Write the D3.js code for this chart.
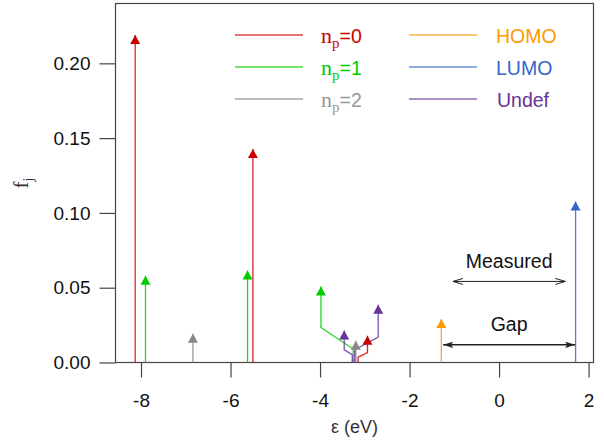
<!DOCTYPE html>
<html>
<head>
<meta charset="utf-8">
<script src="https://cdn.jsdelivr.net/npm/d3@7"></script>
<style>
  html, body { margin: 0; padding: 0; background: #fff; }
  svg { display: block; }
</style>
</head>
<body>
<svg id="chart" width="604" height="440"></svg>
<script>
// Oscillator strengths f_j of the transitions, grouped by n_p class.
const stemType     = ["np0", "np1", "np2", "np1", "np0", "np1", "undef", "np2", "np0", "undef", "homo", "lumo"];
const stemEnergy   = [-8.13, -7.90, -6.84, -5.62, -5.50, -3.26, -3.28, -3.20, -3.15, -3.225, -1.29, 1.71];
// where the arrow head is drawn (crowded sticks are fanned out sideways)
const stemShownAt  = [-8.13, -7.90, -6.84, -5.62, -5.50, -3.98, -3.46, -3.20, -2.94, -2.70, -1.29, 1.71];
const stemStrength = [0.219, 0.058, 0.0192, 0.0615, 0.1427, 0.0508, 0.0214, 0.0145, 0.0179, 0.0386, 0.029, 0.1077];
// heights of the upper and lower bends of the fan-out leaders
const bendHigh     = [0, 0, 0, 0, 0, 0.0234, 0.0085, 0, 0.0067, 0.0170, 0, 0];
const bendLow      = [0, 0, 0, 0, 0, 0.0090, 0.0052, 0, 0.0036, 0.0085, 0, 0];

const xTicks = [-8, -6, -4, -2, 0, 2];
const yTicks = [0, 0.05, 0.10, 0.15, 0.20];

const legendKeys   = ["np0", "np1", "np2", "homo", "lumo", "undef"];
const legendLabels = ["=0", "=1", "=2", "HOMO", "LUMO", "Undef"];

// HOMO–LUMO gap and the measured gap (eV)
const gapSpan      = [-1.25, 1.70];
const measuredSpan = [-1.03, 1.48];

const lineColor = { np0: "#cc0000", np1: "#00cc00", np2: "#888888", homo: "#ff9900", lumo: "#3366cc", undef: "#663399" };
const textColor = { np0: "#cc0000", np1: "#00cc00", np2: "#999999", homo: "#ff9900", lumo: "#3366cc", undef: "#663399" };

const svg = d3.select("#chart");
const L = 115.5, R = 593.5, T = 3.5, B = 362.5;
const sans = "'Liberation Sans', Arial, sans-serif";
const serif = "'Liberation Serif', 'Times New Roman', serif";

const x = d3.scaleLinear().domain([-8.57, 2.11]).range([L, R]);
const y = d3.scaleLinear().domain([0, 0.24]).range([B, T]);

// axes
const xAxis = svg.append("g").attr("transform", `translate(0,${B})`)
  .call(d3.axisBottom(x).tickValues(xTicks).tickSize(15).tickPadding(16).tickFormat(d => String(d)));
const yAxis = svg.append("g").attr("transform", `translate(${L},0)`)
  .call(d3.axisLeft(y).tickValues(yTicks).tickSize(16).tickPadding(9).tickFormat(d3.format(".2f")));
[xAxis, yAxis].forEach(a => {
  a.select(".domain").remove();
  a.selectAll(".tick line").attr("stroke", "#444").attr("stroke-width", 1.2);
  a.selectAll(".tick text").attr("fill", "#111").style("font-family", sans).style("font-size", "19px");
});

// frame
svg.append("rect").attr("x", L).attr("y", T).attr("width", R - L).attr("height", B - T)
  .attr("fill", "none").attr("stroke", "#444").attr("stroke-width", 1.2);

// axis titles
svg.append("text").attr("x", (L + R) / 2).attr("y", 433).attr("text-anchor", "middle")
  .attr("fill", "#333").style("font-family", sans).style("font-size", "18px").text("ε (eV)");
const yt = svg.append("text").attr("transform", `translate(28,${(T + B) / 2}) rotate(-90)`)
  .attr("text-anchor", "middle").attr("fill", "#333").style("font-family", serif).style("font-size", "21px");
yt.append("tspan").text("f");
yt.append("tspan").attr("dy", 5).style("font-size", "14px").text("j");

// stems with leaders and arrow heads
const stems = stemType.map((t, i) => ({
  t, e: stemEnergy[i], s: stemShownAt[i], f: stemStrength[i], hi: bendHigh[i], lo: bendLow[i]
}));
const stemLine = d3.line().x(d => x(d[0])).y(d => y(d[1]));
const g = svg.append("g");
stems.forEach(d => {
  const pts = d.s === d.e
    ? [[d.e, 0], [d.e, d.f]]
    : [[d.e, 0], [d.e, d.lo], [d.s, d.hi], [d.s, d.f]];
  g.append("path").attr("d", stemLine(pts)).attr("fill", "none")
    .attr("stroke", lineColor[d.t]).attr("stroke-width", 1.3).attr("opacity", 0.85);
});
stems.forEach(d => {
  const cx = x(d.s), ty = y(d.f);
  g.append("path").attr("d", `M${cx},${ty} L${cx - 5},${ty + 9} L${cx + 5},${ty + 9} Z`)
    .attr("fill", lineColor[d.t]);
});

// legend
legendKeys.forEach((k, i) => {
  const col = Math.floor(i / 3), row = i % 3;
  const ly = 35 + row * 32;
  const x0 = col === 0 ? 235 : 409;
  svg.append("rect").attr("x", x0).attr("y", ly - 0.6).attr("width", 68).attr("height", 1.2)
    .attr("fill", lineColor[k]).attr("opacity", 0.9);
  const tx = svg.append("text").attr("y", ly + 7.5).attr("fill", textColor[k]).style("font-family", sans).style("font-size", "19.5px");
  if (col === 0) {
    tx.attr("x", 321);
    tx.append("tspan").style("font-family", serif).style("font-size", "22px").text("n");
    tx.append("tspan").attr("dy", 5).style("font-family", serif).style("font-size", "15px").text("p");
    tx.append("tspan").attr("dy", -5).text(legendLabels[i]);
  } else {
    tx.attr("x", k === "undef" ? 497 : 496).text(legendLabels[i]);
  }
});

// gap annotations
function doubleArrow(span, v, filled, width) {
  const x1 = x(span[0]), x2 = x(span[1]), yy = y(v);
  svg.append("line").attr("x1", x1).attr("x2", x2).attr("y1", yy).attr("y2", yy)
    .attr("stroke", "#222").attr("stroke-width", width);
  [[x1, 1], [x2, -1]].forEach(([px, dir]) => {
    if (filled) {
      svg.append("path").attr("d", `M${px},${yy} L${px + dir * 10},${yy - 3.2} L${px + dir * 8},${yy} L${px + dir * 10},${yy + 3.2} Z`)
        .attr("fill", "#222");
    } else {
      svg.append("path").attr("d", `M${px + dir * 10},${yy - 3} L${px},${yy} L${px + dir * 10},${yy + 3}`)
        .attr("fill", "none").attr("stroke", "#222").attr("stroke-width", 1);
    }
  });
}
doubleArrow(measuredSpan, 0.0542, false, 1);
doubleArrow(gapSpan, 0.0118, true, 1.5);
svg.append("text").attr("x", x((measuredSpan[0] + measuredSpan[1]) / 2)).attr("y", 268).attr("text-anchor", "middle")
  .attr("fill", "#111").style("font-family", sans).style("font-size", "19.5px").text("Measured");
svg.append("text").attr("x", x((gapSpan[0] + gapSpan[1]) / 2)).attr("y", 331).attr("text-anchor", "middle")
  .attr("fill", "#111").style("font-family", sans).style("font-size", "19.5px").text("Gap");
</script>
</body>
</html>
